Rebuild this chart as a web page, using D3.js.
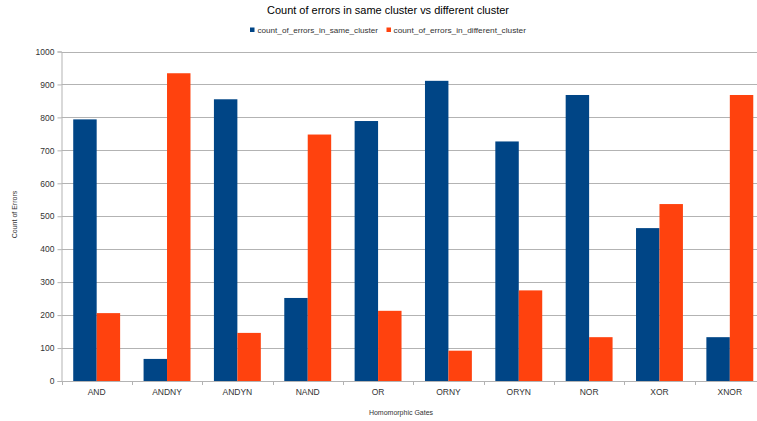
<!DOCTYPE html>
<html>
<head>
<meta charset="utf-8">
<script src="https://cdn.jsdelivr.net/npm/d3@7"></script>
<style>
  html, body { margin: 0; padding: 0; background: #fff; }
  svg { display: block; font-family: "Liberation Sans", Arial, sans-serif; }
</style>
</head>
<body>
<svg id="chart" width="757" height="421"></svg>
<script>
// Error counts per homomorphic gate
const gates = ["AND", "ANDNY", "ANDYN", "NAND", "OR", "ORNY", "ORYN", "NOR", "XOR", "XNOR"];
const sameCluster = [794, 67, 855, 252, 789, 911, 727, 868, 464, 133];
const differentCluster = [206, 934, 146, 748, 213, 92, 275, 133, 537, 868];
const seriesNames = ["count_of_errors_in_same_cluster", "count_of_errors_in_different_cluster"];
const seriesColors = ["#004586", "#ff420e"];
const yTicks = [0, 100, 200, 300, 400, 500, 600, 700, 800, 900, 1000];

const svg = d3.select("#chart");
const W = 757, H = 421;
const margin = { left: 61.5, top: 51.5, bottom: 381 };
const plotRight = 765; // plot runs past the right edge of the frame

const x0 = d3.scaleBand().domain(gates).range([margin.left, plotRight]).padding(0);
const bw = x0.bandwidth();
const x1 = d3.scaleBand().domain([0, 1]).range([bw / 6, bw * 5 / 6]).padding(0);
const y = d3.scaleLinear().domain([0, 1000]).range([margin.bottom, margin.top]);

const clip = svg.append("defs").append("clipPath").attr("id", "frame");
clip.append("rect").attr("x", 0).attr("y", 0).attr("width", W).attr("height", H);
const g = svg.append("g").attr("clip-path", "url(#frame)");

// horizontal gridlines
g.append("g").selectAll("line").data(yTicks.filter(d => d > 0)).join("line")
  .attr("x1", margin.left).attr("x2", plotRight)
  .attr("y1", d => Math.round(y(d)) + 0.5).attr("y2", d => Math.round(y(d)) + 0.5)
  .attr("stroke", "#b3b3b3").attr("stroke-width", 1);

// bars
const rows = gates.map((gate, i) => ({ gate, vals: [sameCluster[i], differentCluster[i]] }));
const groups = g.append("g").selectAll("g").data(rows).join("g")
  .attr("transform", d => `translate(${x0(d.gate)},0)`);
groups.selectAll("rect").data(d => d.vals.map((v, k) => ({ v, k }))).join("rect")
  .attr("x", d => x1(d.k))
  .attr("width", x1.bandwidth())
  .attr("y", d => y(d.v))
  .attr("height", d => y(0) - y(d.v))
  .attr("fill", d => seriesColors[d.k]);

// y axis
const yAxis = d3.axisLeft(y).tickValues(yTicks).tickFormat(d3.format("d"))
  .tickSize(4).tickPadding(3);
const ya = g.append("g").attr("transform", `translate(${margin.left},0)`).call(yAxis);
ya.select(".domain").attr("stroke", "#b3b3b3");
ya.selectAll(".tick line").attr("stroke", "#b3b3b3");
ya.selectAll(".tick text").attr("fill", "#333").style("font-size", "8.5px")
  .style("font-family", "'Liberation Sans', Arial, sans-serif");

// x axis: baseline plus boundary ticks between categories
g.append("line").attr("x1", margin.left).attr("x2", plotRight)
  .attr("y1", y(0) + 0.5).attr("y2", y(0) + 0.5).attr("stroke", "#b3b3b3");
const bounds = gates.map(d => x0(d)).concat([plotRight]);
g.append("g").selectAll("line").data(bounds).join("line")
  .attr("x1", d => Math.round(d) + 0.5).attr("x2", d => Math.round(d) + 0.5)
  .attr("y1", y(0)).attr("y2", y(0) + 4).attr("stroke", "#b3b3b3");
g.append("g").selectAll("text").data(gates).join("text")
  .attr("x", d => x0(d) + bw / 2).attr("y", 394.5)
  .attr("text-anchor", "middle").attr("fill", "#333")
  .style("font-size", "8.5px").text(d => d);

// axis titles
svg.append("text").attr("x", 401).attr("y", 414.5).attr("text-anchor", "middle")
  .attr("fill", "#333").style("font-size", "7px").text("Homomorphic Gates");
svg.append("text").attr("transform", "translate(16.5,214.5) rotate(-90)")
  .attr("text-anchor", "middle").attr("fill", "#333").style("font-size", "7px")
  .text("Count of Errors");

// chart title
svg.append("text").attr("x", 388).attr("y", 13.5).attr("text-anchor", "middle")
  .attr("fill", "#000").style("font-size", "10.5px")
  .attr("textLength", 242).attr("lengthAdjust", "spacingAndGlyphs")
  .text("Count of errors in same cluster vs different cluster");

// legend
const legendItems = [
  { name: seriesNames[0], color: seriesColors[0], sx: 250, tx: 257.5, len: 120.5 },
  { name: seriesNames[1], color: seriesColors[1], sx: 386.5, tx: 393.5, len: 132.5 }
];
const lg = svg.append("g");
legendItems.forEach(it => {
  lg.append("rect").attr("x", it.sx).attr("y", 27.5).attr("width", 4.5).attr("height", 4.5)
    .attr("fill", it.color);
  lg.append("text").attr("x", it.tx).attr("y", 32.8).attr("fill", "#333")
    .style("font-size", "8px")
    .attr("textLength", it.len).attr("lengthAdjust", "spacingAndGlyphs")
    .text(it.name);
});
</script>
</body>
</html>
